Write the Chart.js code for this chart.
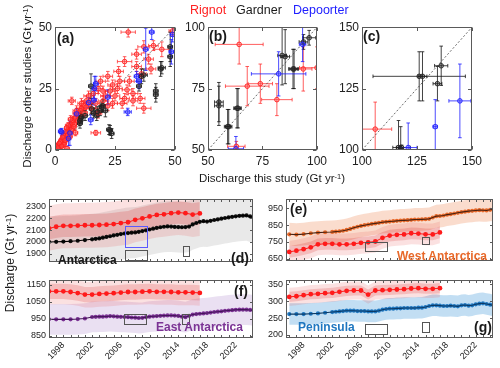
<!DOCTYPE html>
<html><head><meta charset="utf-8">
<script src="https://cdn.jsdelivr.net/npm/chart.js@4.4.0/dist/chart.umd.min.js"></script>
<style>
body{margin:0;width:500px;height:368px;background:#fff;position:relative;overflow:hidden;font-family:"Liberation Sans",Arial,sans-serif;}
canvas{position:absolute;}
.t{position:absolute;white-space:nowrap;line-height:1;color:#1a1a1a;}
.b{font-weight:bold;}
.rot{transform:translate(-50%,-50%) rotate(-90deg);}
sup{font-size:0.65em;line-height:0;vertical-align:0.45em;}
</style></head><body>
<canvas id="ca"></canvas><canvas id="cb"></canvas><canvas id="cc"></canvas>
<canvas id="cd"></canvas><canvas id="ce"></canvas><canvas id="cf"></canvas><canvas id="cg"></canvas>

<div class="t" style="left:190px;top:4px;font-size:12.5px;color:#ff2020">Rignot</div>
<div class="t" style="left:236px;top:4px;font-size:12.5px;color:#1a1a1a">Gardner</div>
<div class="t" style="left:293px;top:4px;font-size:12.5px;color:#2020ff">Depoorter</div>

<div class="t b" style="left:57px;top:31px;font-size:14px">(a)</div>
<div class="t b" style="left:209px;top:29px;font-size:14px">(b)</div>
<div class="t b" style="left:363px;top:29px;font-size:14px">(c)</div>

<div class="t rot" style="left:28px;top:86px;font-size:11.5px">Discharge other studies (Gt yr<sup>-1</sup>)</div>
<div class="t" style="left:272px;top:179px;font-size:11.5px;transform:translate(-50%,-50%)">Discharge this study (Gt yr<sup>-1</sup>)</div>
<div class="t rot" style="left:10px;top:263px;font-size:12px">Discharge (Gt yr<sup>-1</sup>)</div>

<div class="t b" style="left:58px;top:254px;font-size:12px">Antarctica</div>
<div class="t b" style="left:231px;top:251px;font-size:14px">(d)</div>
<div class="t b" style="left:290px;top:202px;font-size:14px">(e)</div>
<div class="t b" style="left:397px;top:250px;font-size:12px;color:#e8692a">West Antarctica</div>
<div class="t b" style="left:234px;top:284px;font-size:14px">(f)</div>
<div class="t b" style="left:156px;top:321px;font-size:12px;color:#7b3294">East Antarctica</div>
<div class="t b" style="left:474px;top:320px;font-size:14px">(g)</div>
<div class="t b" style="left:298px;top:321px;font-size:12px;color:#1f77c0">Peninsula</div>

<script>
// ---------- DATA: scatter panels, points are [this study, other study, x error, y error] ----------
const A_RIGNOT = [[30.5,48,3,2],[44.5,41,3,3],[37,42,2.5,2.5],[34,39,2,2],[29,36,3,2],[39,37,2,2],[34,34,2,2],[26.5,32,2,2],[22,30,2,2],[19,28,2,2],[24,26.5,2,2],[27,28,2,2],[30,24.5,2,2],[32.5,23,2,2],[35.5,21,2,2],[37,17,3,2],[32.5,20,2,2],[29,21,2,2],[26,25,2,2],[23,24,2,2],[21,22,2,2],[18,25,2,2],[16,23,2,2],[14,22,2,2],[20,20,2,2],[17,19,1.5,2],[13,20,2,2],[12,18,1.5,2],[7,20,1.5,1.5],[17,7,2,1],[5,0.5,1,1],[11,17,2,2],[9,15,1.5,2],[8,13,1.5,2],[10,14,1.5,2],[12,15,1.5,1.5],[15,17,2,2],[20,24,2,2],[25,22,2,2],[28,19,2,2],[24,19,2,2],[22,18,2,2],[18,15,1.5,2],[31,28,2,2],[36,31,2,2],[40,33,2,2],[49,48.5,1.5,2],[41,42.5,2,2],
[0.5,0.5,0.5,0.5],[1,1,0.5,0.5],[1.5,2,0.5,0.7],[2,2.5,0.6,0.8],[2.5,3,0.6,0.8],[3,3.5,0.7,1],[3.5,4.5,0.7,1],[4,5,0.8,1],[4.5,6,0.8,1],[5,7,0.8,1.2],[5.5,8,1,1.2],[6,9,1,1.2],[6.5,10,1,1.5],[7,11,1,1.5],[7.5,12,1,1.5],[8,10.5,1,1.5],[1,2,0.5,0.5],[2,1,0.5,0.5],[3,2,0.6,0.6],[2.5,4,0.6,0.8],[4,3,0.7,0.8],[5,4.5,0.8,1],[3.5,6,0.7,1],[4.5,7.5,0.8,1],[6,7,1,1],[7,8.5,1,1.2],[5.5,10,1,1.2],[8.5,13,1,1.5],[9.5,12,1,1.5],[6.5,12.5,1,1.5],[9,16,1.5,2],[10.5,16,1.5,2],[1.5,0.5,0.5,0.5],[0.8,1.5,0.5,0.5],[2.2,3.3,0.5,0.7],[3.2,5.2,0.7,1],[4.2,4,0.7,0.8],[1.8,2.7,0.5,0.6],[0.3,0.2,0.3,0.3],[1.2,0.8,0.4,0.4],[3.8,2.2,0.6,0.7],[5.2,6,0.8,1],[2.8,1.5,0.6,0.6],[4.8,9,0.8,1.2],[6.2,5.5,1,1],[7.8,9.5,1.2,1.5],[11,19,1.5,2],[13,17.5,1.5,2],[14.5,19.5,1.5,2],[8.5,7,1,1.2]];
const A_GARDNER = [[48,42,1,6],[48,38,1,4],[44.5,33.5,1.5,2.5],[44,33,1,3],[37,30.5,1.5,2.5],[36,30,1,3],[35,26,1,2],[42,24,1,3],[42,22.5,1,3],[15,26,1,5],[15.3,16.7,1,2],[18.8,16,1,2],[19.4,17.5,1,2],[17.6,15.6,1,2],[10.4,12,1,2],[11,13.5,1,2],[10.4,10.9,1,2],[10.7,12.9,1,2],[23,8,1,2],[23.6,6.7,1,2],[22.5,8.3,1,2],[17.4,14,1,2],[16,15,1,2],[12.5,14,1,2],[21,16,1,2.5],[20,18,1,2.5]];
const A_DEPOORTER = [[40.3,48,1,3],[49,47,1,3],[37.8,41,1,8.6],[48.5,40,1,5],[35,28,1,3],[34,30,1,2],[16.4,25,1,5],[22,21.5,1,3],[14,19.3,1,2],[16.2,20.3,1,2],[30.3,15.5,1.5,1.5],[14.9,12.3,1,2],[9,14.7,1,2],[2.8,7.3,1,1.5],[6.2,6.9,1,5],[5.6,4.7,1,3],[2.4,7.6,1,1],[17,27,1,3]];

const B_RIGNOT = [[64.3,93,11,8],[68,76,10,8],[74,77,5.6,8],[81.6,70.5,7,6.5],[93.7,83,4,9],[100,83.5,8,8.5],[63,51.5,4,2]];
const B_GARDNER = [[55,69.5,2,8],[55,68,2,8],[59,59.5,1.5,7],[59.5,59.5,1.5,7],[63.3,67,1.5,8],[63.8,67,1.5,8],[85.4,88,2,11],[84,88.5,2,12],[89,83,2,8],[89.5,83,2,8],[96.4,95.7,3,3],[93.8,94,2,3]];
const B_DEPOORTER = [[82.4,81,12.5,9],[93.4,93,1.5,7],[62.8,50.5,3.5,5]];

const C_RIGNOT = [[106,108.5,7.5,11]];
const C_GARDNER = [[126,130,21,10],[127.5,130,2,10],[136,134.3,3,8],[134.3,127,2,7],[116.6,101,1,11],[117.6,100.5,1,9],[118,101,4,1]];
const C_DEPOORTER = [[121,101,4,10],[133.3,109.5,1,11],[144.5,120,5,15]];

const TICKS_A = [0,25,50], TICKS_B = [50,75,100], TICKS_C = [100,125,150];

// ---------- DATA: time series ----------
const RIG_YEARS = [1996,1997,1998,1999,2000,2001,2002,2003,2004,2005,2006,2007,2008,2009,2010,2011,2012,2013,2014,2015,2016,2017];
const TIME = [1996,1997,1998,1999,2000,2001,2002,2002.5,2003,2003.5,2004,2004.5,2005,2005.5,2006,2006.5,2007,2007.5,2008,2008.5,2009,2009.5,2010,2010.5,2011,2011.5,2012,2012.5,2013,2013.5,2014,2014.5,2015,2015.5,2016,2016.5,2017,2017.5,2018,2018.5,2019,2019.5,2020,2020.5,2021,2021.5,2022,2022.5,2023,2023.5,2024,2024.5];

const ANT_RIG = [2115,2128,2136,2136,2138,2141,2141,2143,2146,2151,2159,2166,2187,2199,2215,2228,2233,2243,2248,2243,2231,2241];
const ANT_THIS = [2000,2001,2003,2006,2010,2016,2022,2026,2030,2036,2042,2048,2055,2060,2066,2071,2075,2078,2080,2085,2092,2098,2105,2112,2118,2124,2128,2131,2130,2127,2125,2124,2125,2130,2148,2160,2170,2175,2172,2178,2185,2190,2196,2202,2207,2212,2216,2220,2222,2224,2215,2205];
const WAIS_RIG = [691,698,707,718,736,739,739,736,736,739,745,748,753,775,788,793,795,802,800,796,795,807];
const WAIS_THIS = [796,794,797,802,806,808,810,812,814,817,822,828,835,841,846,850,854,858,861,864,868,870,872,874,876,878,879,880,882,884,884,885,886,888,896,904,905,908,913,916,920,924,928,931,934,936,938,940,939,938,942,944];
const EAIS_RIG = [1111,1111,1111,1107,1101,1092,1092,1096,1098,1100,1104,1107,1107,1109,1111,1108,1108,1107,1105,1105,1104,1102];
const EAIS_THIS = [947,947,947,947,949,952,961,962,963,963,964,966,965,963,962,961,960,958,957,955,956,960,963,965,966,968,969,970,970,969,967,963,960,968,975,978,980,982,984,987,990,992,994,997,999,1001,1003,1004,1004,1004,1002,999];
const AP_RIG = [313,315,318,321,322,324,325,328,331,332,332,320,332,333,334,335,336,338,339,337,337,339];
const AP_THIS = [262,262,262,263,264,266,268,269,270,271,272,272,272,271,271,271,270,270,270,272,275,277,278,278,279,279,280,280,280,280,281,281,283,286,288,288,287,286,286,287,286,285,288,289,287,288,291,293,294,292,290,287];

// uncertainties (Gt/yr): [Rignot inner, Rignot outer, this study]
const ANT_UNC = [95, 190, 215];
const WAIS_UNC = [35, 65, 68];
const EAIS_UNC = [45, 75, 90];
const AP_UNC = [15, 27, 32];

const TICKS_D = [1900,2000,2100,2200,2300];
const TICKS_E = [650,750,850,950];
const TICKS_F = [850,950,1050,1150];
const TICKS_G = [200,250,300,350];
const YEAR_LABELS = [1998,2002,2006,2010,2014,2018,2022];

// annotation boxes [x0, x1, y0, y1]
const BOX_D = [[2006.6,2009.6,1958,2136],[2006.6,2009.6,1849,1933],[2014.6,2015.5,1887,1968]];
const BOX_E = [[2006.5,2009.5,700,752],[2014.5,2015.5,736,780]];
const BOX_F = [[2006.4,2009.5,921,979],[2014.5,2015.5,921,979]];
const BOX_G = [[2006.5,2009.5,205,234],[2014.5,2015.5,210,239]];

// ---------- rendering ----------
Chart.defaults.font.family = '"Liberation Sans", Arial, sans-serif';
Chart.defaults.color = '#262626';

const errPlugin = {
  id: 'err',
  beforeDatasetsDraw(chart) {
    const {ctx, chartArea: ca, scales: {x, y}} = chart;
    ctx.save(); ctx.beginPath(); ctx.rect(ca.left, ca.top, ca.width, ca.height); ctx.clip();
    chart.data.datasets.forEach(ds => {
      if (!ds.xErr) return;
      ctx.strokeStyle = ds.errColor; ctx.lineWidth = 1;
      ds.data.forEach((p, i) => {
        const px = x.getPixelForValue(p.x), py = y.getPixelForValue(p.y);
        const x0 = x.getPixelForValue(p.x - ds.xErr[i]), x1 = x.getPixelForValue(p.x + ds.xErr[i]);
        const y0 = y.getPixelForValue(p.y - ds.yErr[i]), y1 = y.getPixelForValue(p.y + ds.yErr[i]);
        const c = 1.8;
        ctx.beginPath();
        ctx.moveTo(x0, py); ctx.lineTo(x1, py);
        ctx.moveTo(px, y0); ctx.lineTo(px, y1);
        ctx.moveTo(x0, py - c); ctx.lineTo(x0, py + c);
        ctx.moveTo(x1, py - c); ctx.lineTo(x1, py + c);
        ctx.moveTo(px - c, y0); ctx.lineTo(px + c, y0);
        ctx.moveTo(px - c, y1); ctx.lineTo(px + c, y1);
        ctx.stroke();
      });
    });
    ctx.restore();
  }
};

const framePlugin = {
  id: 'frame',
  afterDatasetsDraw(chart, args, opts) {
    const {ctx, chartArea: ca, scales: {x, y}} = chart;
    ctx.save();
    if (opts.boxes) {
      opts.boxes.forEach((b, i) => {
        ctx.strokeStyle = (opts.boxColors && opts.boxColors[i]) || '#555';
        ctx.lineWidth = 1;
        const X0 = x.getPixelForValue(b[0]), X1 = x.getPixelForValue(b[1]);
        const Y0 = y.getPixelForValue(b[2]), Y1 = y.getPixelForValue(b[3]);
        ctx.strokeRect(Math.round(X0) + 0.5, Math.round(Y1) + 0.5, Math.round(X1 - X0), Math.round(Y0 - Y1));
      });
    }
    ctx.strokeStyle = '#5a5a5a'; ctx.lineWidth = 1;
    const L = Math.round(ca.left) + 0.5, R = Math.round(ca.right) - 0.5, T = Math.round(ca.top) + 0.5, B = Math.round(ca.bottom) - 0.5;
    ctx.strokeRect(L, T, R - L, B - T);
    const tl = opts.len;
    ctx.beginPath();
    opts.xt.forEach(v => { const p = Math.round(x.getPixelForValue(v)) + 0.5; ctx.moveTo(p, B); ctx.lineTo(p, B - tl); ctx.moveTo(p, T); ctx.lineTo(p, T + tl); });
    opts.yt.forEach(v => { const p = Math.round(y.getPixelForValue(v)) + 0.5; ctx.moveTo(L, p); ctx.lineTo(L + tl, p); ctx.moveTo(R, p); ctx.lineTo(R - tl, p); });
    ctx.stroke();
    ctx.restore();
  }
};

function place(id, box, yW, xH) {
  const padT = 8, padR = 12;
  const c = document.getElementById(id);
  const W = yW + (box.r - box.l) + padR, H = padT + (box.b - box.t) + xH;
  c.width = W; c.height = H;
  c.style.left = (box.l - yW) + 'px'; c.style.top = (box.t - padT) + 'px';
  c.style.width = W + 'px'; c.style.height = H + 'px';
  return {padT, padR, c};
}

function scatterChart(id, box, tk, series) {
  const yW = 30, xH = 22;
  const p = place(id, box, yW, xH);
  const lo = tk[0], hi = tk[tk.length - 1];
  const datasets = [{
    data: [{x: lo, y: lo}, {x: hi, y: hi}], showLine: true, borderColor: '#444', borderWidth: 0.8,
    borderDash: [2, 2], pointRadius: 0, order: 9
  }];
  series.forEach(s => datasets.push({
    data: s.pts.map(q => ({x: q[0], y: q[1]})),
    xErr: s.pts.map(q => q[2]), yErr: s.pts.map(q => q[3]), errColor: s.err,
    pointRadius: 2.3, pointBorderWidth: 0.9, borderColor: s.col, backgroundColor: s.fill,
    pointBackgroundColor: s.fill, pointBorderColor: s.col, order: s.order
  }));
  new Chart(p.c, {
    type: 'scatter',
    data: {datasets},
    options: {
      responsive: false, animation: false, devicePixelRatio: 1,
      layout: {padding: {top: p.padT, right: p.padR, left: 0, bottom: 0}},
      plugins: {legend: {display: false}, tooltip: {enabled: false}, frame: {xt: tk, yt: tk, len: 3.5}},
      scales: {
        x: {type: 'linear', min: lo, max: hi, grid: {display: false, drawTicks: false}, border: {display: false},
            afterBuildTicks: s => { s.ticks = tk.map(v => ({value: v})); }, afterFit: s => { s.height = xH; },
            ticks: {font: {size: 12}, padding: 4, maxRotation: 0, autoSkip: false, color: '#222', callback: v => String(v)}},
        y: {type: 'linear', min: lo, max: hi, grid: {display: false, drawTicks: false}, border: {display: false},
            afterBuildTicks: s => { s.ticks = tk.map(v => ({value: v})); }, afterFit: s => { s.width = yW; },
            ticks: {font: {size: 12}, padding: 3, autoSkip: false, color: '#222', callback: v => String(v)}}
      }
    },
    plugins: [errPlugin, framePlugin]
  });
}

const RED = {col: '#ff2020', fill: 'rgba(255,90,90,0.35)', err: 'rgba(255,40,40,0.75)', order: 3};
const BLK = {col: '#222', fill: 'rgba(40,40,40,0.35)', err: 'rgba(20,20,20,0.8)', order: 2};
const BLU = {col: '#2020ff', fill: 'rgba(60,60,255,0.35)', err: 'rgba(30,30,255,0.8)', order: 1};

scatterChart('ca', {l: 55, t: 25, r: 175, b: 150}, TICKS_A, [
  Object.assign({pts: A_RIGNOT}, RED), Object.assign({pts: A_GARDNER}, BLK), Object.assign({pts: A_DEPOORTER}, BLU)]);
scatterChart('cb', {l: 208, t: 25, r: 319, b: 150}, TICKS_B, [
  Object.assign({pts: B_RIGNOT}, RED), Object.assign({pts: B_GARDNER}, BLK), Object.assign({pts: B_DEPOORTER}, BLU)]);
scatterChart('cc', {l: 362, t: 25, r: 474, b: 150}, TICKS_C, [
  Object.assign({pts: C_RIGNOT}, RED), Object.assign({pts: C_GARDNER}, BLK), Object.assign({pts: C_DEPOORTER}, BLU)]);

const YEAR_MARKS = [];
for (let yv = 1996; yv <= 2024; yv++) YEAR_MARKS.push(yv);

function tsChart(id, box, xr, yr, yt, showX, rig, mine, unc, sty, boxes, boxColors) {
  const yW = 36, xH = showX ? 30 : 2;
  const p = place(id, box, yW, xH);
  const band = (xs, vs, e, col, order) => [
    {data: xs.map((t, i) => ({x: t, y: vs[i] + e})), fill: '+1', backgroundColor: col, borderWidth: 0, pointRadius: 0, order},
    {data: xs.map((t, i) => ({x: t, y: vs[i] - e})), fill: false, borderWidth: 0, pointRadius: 0, order}
  ];
  const datasets = [].concat(
    band(TIME, mine, unc[2], sty.band, 12),
    band(RIG_YEARS, rig, unc[1], 'rgba(232,70,70,0.16)', 11),
    band(RIG_YEARS, rig, unc[0], 'rgba(215,40,40,0.2)', 10),
    [
      {data: RIG_YEARS.map((t, i) => ({x: t, y: rig[i]})), borderColor: '#ff1a1a', borderWidth: 1, pointRadius: 2.4,
       pointBackgroundColor: '#ff1a1a', pointBorderColor: '#ff1a1a', pointBorderWidth: 0, fill: false, order: 3},
      {data: TIME.map((t, i) => ({x: t, y: mine[i]})), showLine: false, borderColor: sty.dot, pointRadius: 2.1,
       pointBackgroundColor: sty.dot, pointBorderColor: sty.dot, pointBorderWidth: 0, fill: false, order: 2},
      {data: TIME.map((t, i) => ({x: t, y: mine[i]})), borderColor: sty.line, borderWidth: 1.1, pointRadius: 0, fill: false, order: 1}
    ]);
  new Chart(p.c, {
    type: 'line',
    data: {datasets},
    options: {
      responsive: false, animation: false, devicePixelRatio: 1,
      layout: {padding: {top: p.padT, right: p.padR, left: 0, bottom: 0}},
      elements: {line: {tension: 0}},
      plugins: {legend: {display: false}, tooltip: {enabled: false},
                frame: {xt: YEAR_MARKS, yt: yt, len: 2.5, boxes, boxColors}},
      scales: {
        x: {type: 'linear', min: xr[0], max: xr[1], grid: {display: false, drawTicks: false}, border: {display: false},
            afterBuildTicks: s => { s.ticks = YEAR_LABELS.map(v => ({value: v})); }, afterFit: s => { s.height = xH; },
            ticks: {display: showX, font: {size: 9}, padding: 2, minRotation: 45, maxRotation: 45, autoSkip: false,
                    color: '#222', callback: v => String(v)}},
        y: {type: 'linear', min: yr[0], max: yr[1], grid: {display: false, drawTicks: false}, border: {display: false},
            afterBuildTicks: s => { s.ticks = yt.map(v => ({value: v})); }, afterFit: s => { s.width = yW; },
            ticks: {font: {size: 9}, padding: 3, autoSkip: false, color: '#222', callback: v => String(v)}}
      }
    },
    plugins: [framePlugin]
  });
}

const XR_DF = [1996, 2024.4], XR_EG = [1995.55, 2024.4];
tsChart('cd', {l: 49, t: 199, r: 253, b: 268}, XR_DF, [1834, 2359], TICKS_D, false, ANT_RIG, ANT_THIS, ANT_UNC,
  {band: 'rgba(120,120,120,0.16)', dot: '#111', line: '#000'}, BOX_D, ['#5a5aff', '#555', '#555']);
tsChart('ce', {l: 286, t: 199, r: 493, b: 267}, XR_EG, [639, 1004], TICKS_E, false, WAIS_RIG, WAIS_THIS, WAIS_UNC,
  {band: 'rgba(238,140,90,0.3)', dot: '#e8692a', line: '#4a2210'}, BOX_E, ['#555', '#555']);
tsChart('cf', {l: 49, t: 280, r: 253, b: 338}, XR_DF, [838, 1175], TICKS_F, true, EAIS_RIG, EAIS_THIS, EAIS_UNC,
  {band: 'rgba(150,100,190,0.2)', dot: '#7b3294', line: '#45145a'}, BOX_F, ['#555', '#555']);
tsChart('cg', {l: 286, t: 280, r: 493, b: 338}, XR_EG, [191, 362], TICKS_G, true, AP_RIG, AP_THIS, AP_UNC,
  {band: 'rgba(80,160,220,0.35)', dot: '#1f77c0', line: '#0b3a66'}, BOX_G, ['#555', '#555']);
</script>
</body></html>
